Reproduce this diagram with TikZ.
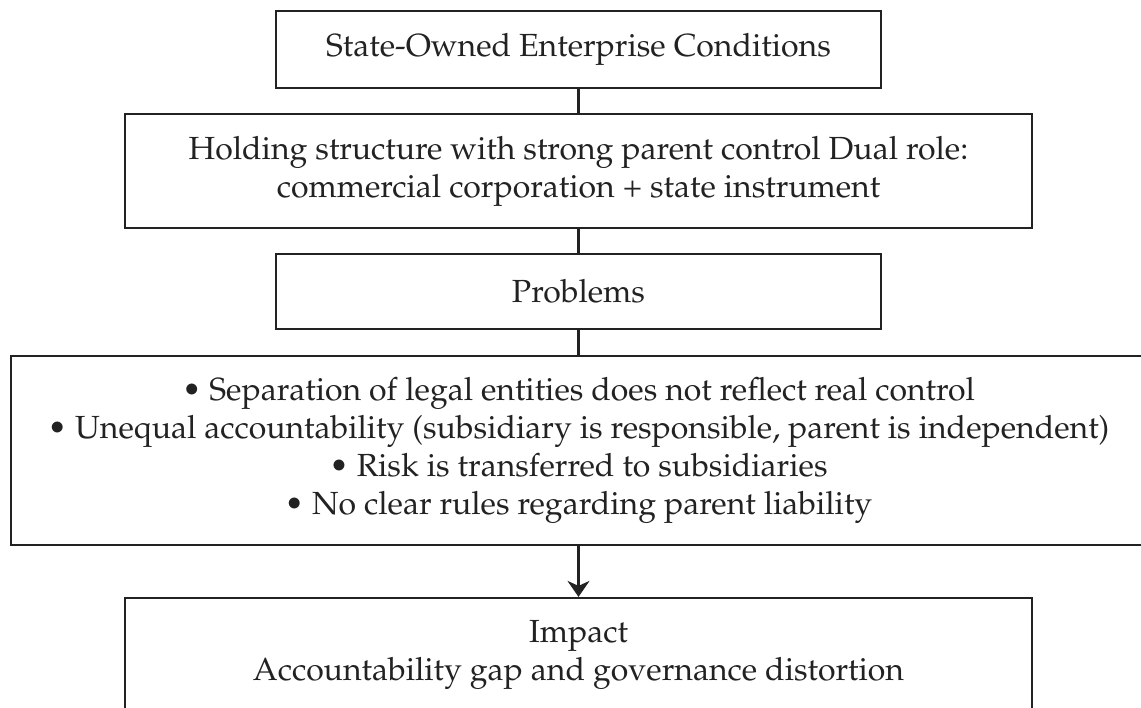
\documentclass[tikz,border=0pt]{standalone}
\usepackage[T1]{fontenc}
\renewcommand{\rmdefault}{ppl}
\usetikzlibrary{arrows.meta}
\definecolor{ink}{HTML}{222222}
\tikzset{
  box/.style={draw=ink, line width=2.2pt, inner sep=0pt, align=center,
    font=\fontsize{32}{38}\selectfont, text=ink},
  link/.style={draw=ink, line width=2.2pt},
  arrowlink/.style={link, -{Stealth[length=16pt,width=22pt,inset=5pt]}}
}
\begin{document}
\begin{tikzpicture}[x=1pt,y=-1pt]
  \useasboundingbox (0,0) rectangle (1141,708);
  \clip (0,0) rectangle (1141,708);
  \node[box, minimum width=605pt, minimum height=77pt] (soe) at (578.5,49.5)
    {State-Owned Enterprise Conditions};
  \node[box, minimum width=907pt, minimum height=114pt] (hold) at (578.5,171)
    {Holding structure with strong parent control Dual role:\\
     commercial corporation + state instrument};
  \node[box, minimum width=605pt, minimum height=75pt] (prob) at (578.5,291.5)
    {Problems};
  \node[box, minimum width=1135pt, minimum height=189pt] (list) at (578.5,450.5)
    {\textbullet{} Separation of legal entities does not reflect real control\\
     \textbullet{} Unequal accountability (subsidiary is responsible, parent is independent)\\
     \textbullet{} Risk is transferred to subsidiaries\\
     \textbullet{} No clear rules regarding parent liability};
  \node[box, minimum width=907pt, minimum height=114pt] (impact) at (578.5,655)
    {Impact\\
     Accountability gap and governance distortion};
  \draw[link] (soe) -- (hold);
  \draw[link] (hold) -- (prob);
  \draw[link] (prob) -- (list);
  \draw[arrowlink] (list) -- (impact);
\end{tikzpicture}
\end{document}
